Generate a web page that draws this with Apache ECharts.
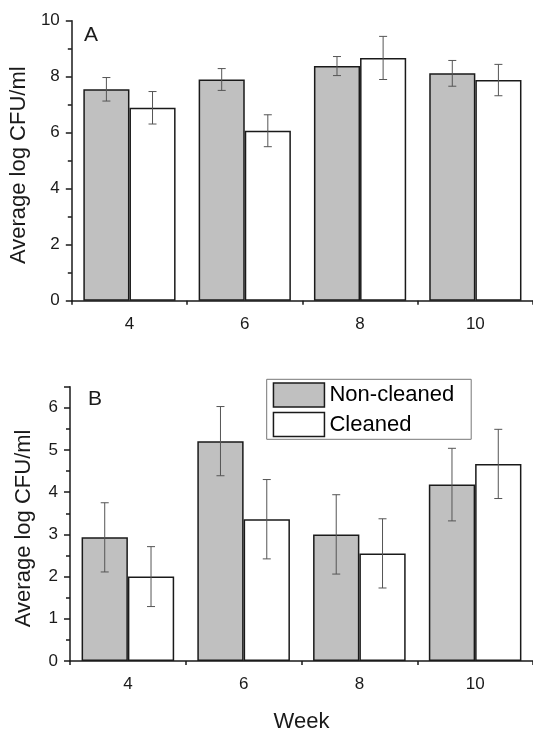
<!DOCTYPE html>
<html>
<head>
<meta charset="utf-8">
<script src="https://cdn.jsdelivr.net/npm/echarts@6/dist/echarts.min.js"></script>
<style>
html,body{margin:0;padding:0;background:#fff;}
#chart{width:533px;height:734px;}
</style>
</head>
<body>
<div id="chart"></div>
<script>
const weeks = ['4', '6', '8', '10'];
const seriesNames = ['Non-cleaned', 'Cleaned'];
// Panel A
const aNonCleaned = [7.55, 7.90, 8.38, 8.12];
const aNonCleanedErr = [0.42, 0.39, 0.34, 0.46];
const aCleaned = [6.89, 6.07, 8.67, 7.88];
const aCleanedErr = [0.58, 0.57, 0.77, 0.56];
// Panel B
const bNonCleaned = [2.93, 5.21, 3.00, 4.18];
const bNonCleanedErr = [0.82, 0.82, 0.94, 0.86];
const bCleaned = [2.00, 3.36, 2.55, 4.67];
const bCleanedErr = [0.71, 0.94, 0.82, 0.82];

const FONT = '"Liberation Sans", Arial, sans-serif';
const INK = '#1a1a1a';

function errData(vals, errs) {
  return vals.map((v, i) => [i, v - errs[i], v + errs[i]]);
}
function errSeries(vals, errs, offset, xi, yi) {
  return {
    type: 'custom',
    xAxisIndex: xi, yAxisIndex: yi,
    z: 10,
    silent: true,
    encode: { x: 0, y: [1, 2] },
    data: errData(vals, errs),
    renderItem: function (params, api) {
      const idx = api.value(0);
      const lo = api.coord([idx, api.value(1)]);
      const hi = api.coord([idx, api.value(2)]);
      const bw = api.size([1, 0])[0];
      const x = lo[0] + offset * bw;
      const cap = 4;
      const style = { stroke: '#555', lineWidth: 1 };
      return {
        type: 'group',
        children: [
          { type: 'line', shape: { x1: x, y1: lo[1], x2: x, y2: hi[1] }, style: style },
          { type: 'line', shape: { x1: x - cap, y1: lo[1], x2: x + cap, y2: lo[1] }, style: style },
          { type: 'line', shape: { x1: x - cap, y1: hi[1], x2: x + cap, y2: hi[1] }, style: style }
        ]
      };
    }
  };
}
function barSeries(name, vals, color, xi, yi) {
  return {
    name: name, type: 'bar',
    xAxisIndex: xi, yAxisIndex: yi,
    data: vals,
    barGap: '0%', barCategoryGap: '20%',
    itemStyle: { color: color, borderColor: INK, borderWidth: 1.5 }
  };
}
function mainX(gi, withName) {
  const ax = {
    type: 'category', gridIndex: gi, data: weeks, position: 'bottom',
    axisLine: { lineStyle: { color: INK, width: 1.5 } },
    axisTick: { alignWithLabel: true, length: 8, lineStyle: { color: INK, width: 1.5 } },
    axisLabel: { color: INK, fontSize: 17, fontFamily: FONT, margin: 15 },
    splitLine: { show: false }
  };
  if (withName) {
    ax.name = 'Week';
    ax.nameLocation = 'middle';
    ax.nameGap = 50;
    ax.nameTextStyle = { fontSize: 22, color: INK, fontFamily: FONT };
  }
  return ax;
}
function boundaryX(gi) {
  return {
    type: 'category', gridIndex: gi, data: weeks, position: 'bottom',
    axisLine: { show: false },
    axisTick: { show: true, alignWithLabel: false, length: 4, lineStyle: { color: INK, width: 1.5 } },
    axisLabel: { show: false },
    splitLine: { show: false }
  };
}
function yAx(gi, max, interval) {
  return {
    type: 'value', gridIndex: gi, min: 0, max: max, interval: interval,
    name: 'Average log CFU/ml', nameLocation: 'middle', nameGap: 35,
    nameTextStyle: { fontSize: 22, color: INK, fontFamily: FONT, padding: [0, 9, 0, 0] },
    axisLine: { show: true, lineStyle: { color: INK, width: 1.5 } },
    axisTick: { show: true, length: 6, lineStyle: { color: INK, width: 1.5 } },
    minorTick: { show: true, splitNumber: 2, length: 4, lineStyle: { color: INK, width: 1.5 } },
    axisLabel: { color: INK, fontSize: 17, fontFamily: FONT, margin: 12, showMaxLabel: max === 10 },
    splitLine: { show: false }
  };
}

const chart = echarts.init(document.getElementById('chart'), null, { renderer: 'canvas' });
chart.setOption({
  animation: false,
  backgroundColor: '#fff',
  grid: [
    { left: 70, right: 0, top: 20.7, height: 280 },
    { left: 70, right: 0, top: 386.7, height: 280 }
  ],
  xAxis: [mainX(0, false), mainX(1, true), boundaryX(0), boundaryX(1)],
  yAxis: [yAx(0, 10, 2), yAx(1, 6.5, 1)],
  legend: {
    data: seriesNames,
    orient: 'vertical',
    left: 266.7, top: 379.3,
    padding: [3, 17, 2, 6],
    itemGap: 4,
    itemWidth: 51, itemHeight: 24,
    icon: 'rect',
    borderColor: '#777', borderWidth: 1,
    itemStyle: { borderColor: INK, borderWidth: 1.5 },
    textStyle: { fontSize: 22, color: '#000', fontFamily: FONT }
  },
  graphic: [
    { type: 'text', left: 84, top: 25, style: { text: 'A', fontSize: 21, fill: INK, fontFamily: FONT } },
    { type: 'text', left: 88, top: 389, style: { text: 'B', fontSize: 21, fill: INK, fontFamily: FONT } }
  ],
  series: [
    barSeries(seriesNames[0], aNonCleaned, '#c0c0c0', 0, 0),
    barSeries(seriesNames[1], aCleaned, '#ffffff', 0, 0),
    errSeries(aNonCleaned, aNonCleanedErr, -0.2, 0, 0),
    errSeries(aCleaned, aCleanedErr, 0.2, 0, 0),
    barSeries(seriesNames[0], bNonCleaned, '#c0c0c0', 1, 1),
    barSeries(seriesNames[1], bCleaned, '#ffffff', 1, 1),
    errSeries(bNonCleaned, bNonCleanedErr, -0.2, 1, 1),
    errSeries(bCleaned, bCleanedErr, 0.2, 1, 1)
  ]
});
</script>
</body>
</html>
